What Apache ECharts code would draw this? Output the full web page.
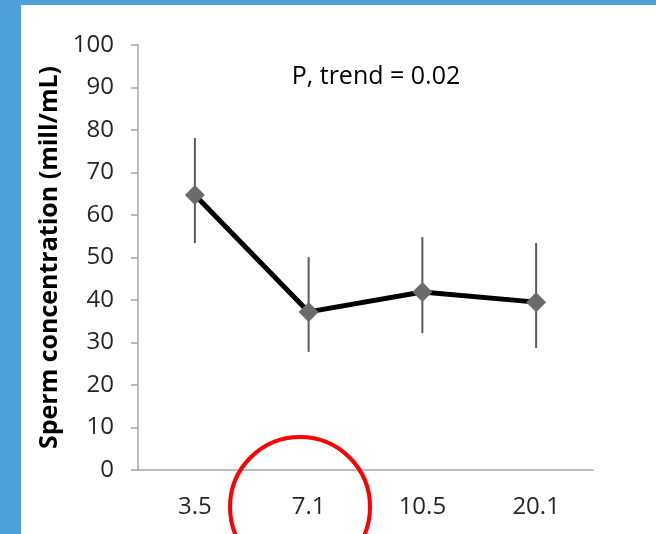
<!DOCTYPE html>
<html><head><meta charset="utf-8">
<script src="https://cdn.jsdelivr.net/npm/echarts@6/dist/echarts.min.js"></script>
<style>html,body{margin:0;padding:0;background:#fff}#c{width:656px;height:534px}</style>
</head><body><div id="c"></div>
<script>
const categories = ['3.5', '7.1', '10.5', '20.1'];
const means = [64.7, 37.2, 41.9, 39.5];
const upper = [78.1, 50.1, 54.8, 53.4];
const lower = [53.4, 27.8, 32.2, 28.7];
const yTicks = [0, 100, 10];
const annotation = 'P, trend = 0.02';
const yTitle = 'Sperm concentration (mill/mL)';

const errData = categories.map((c, i) => [i, lower[i], upper[i]]);
const font = '"Open Sans", sans-serif';
const chart = echarts.init(document.getElementById('c'));
chart.setOption({
  animation: false,
  backgroundColor: '#ffffff',
  grid: {left: 138, right: 63, top: 45, bottom: 64},
  xAxis: {
    type: 'category', data: categories, boundaryGap: true,
    axisLine: {lineStyle: {color: '#a6a6a6', width: 1.5}},
    axisTick: {show: false},
    axisLabel: {color: '#262626', fontSize: 24, fontFamily: font, margin: 25}
  },
  yAxis: {
    type: 'value', min: yTicks[0], max: yTicks[1], interval: yTicks[2],
    name: yTitle, nameLocation: 'middle', nameGap: 75, nameRotate: 90,
    nameTextStyle: {color: '#000', fontSize: 25, fontWeight: 'bold', fontFamily: font},
    axisLine: {show: true, lineStyle: {color: '#a6a6a6', width: 1.5}},
    axisTick: {show: true, length: 7, lineStyle: {color: '#a6a6a6', width: 1.5}},
    splitLine: {show: false},
    axisLabel: {color: '#262626', fontSize: 24, fontFamily: font, margin: 24}
  },
  graphic: [
    {type: 'rect', shape: {x: 0, y: 0, width: 21, height: 534}, style: {fill: '#4f9fd8'}, z: 100},
    {type: 'rect', shape: {x: 0, y: 0, width: 656, height: 5}, style: {fill: '#4f9fd8'}, z: 100},
    {type: 'text', x: 376, y: 77, style: {text: annotation, fill: '#000', font: '25px ' + font, textAlign: 'center', textVerticalAlign: 'middle'}},
    {type: 'circle', shape: {cx: 300, cy: 507, r: 70}, style: {fill: 'none', stroke: '#ff0000', lineWidth: 4}, z: 50}
  ],
  series: [
    {
      type: 'custom', data: errData, z: 1,
      renderItem: function (params, api) {
        const top = api.coord([api.value(0), api.value(2)]);
        const bot = api.coord([api.value(0), api.value(1)]);
        return {type: 'line', shape: {x1: top[0], y1: top[1], x2: bot[0], y2: bot[1]},
          style: {stroke: '#5a5a5a', lineWidth: 2}};
      }
    },
    {
      type: 'line', data: means, z: 3,
      lineStyle: {color: '#000', width: 5},
      symbol: 'diamond', symbolSize: 20,
      itemStyle: {color: '#6b6b6b'}
    }
  ]
});
</script></body></html>
